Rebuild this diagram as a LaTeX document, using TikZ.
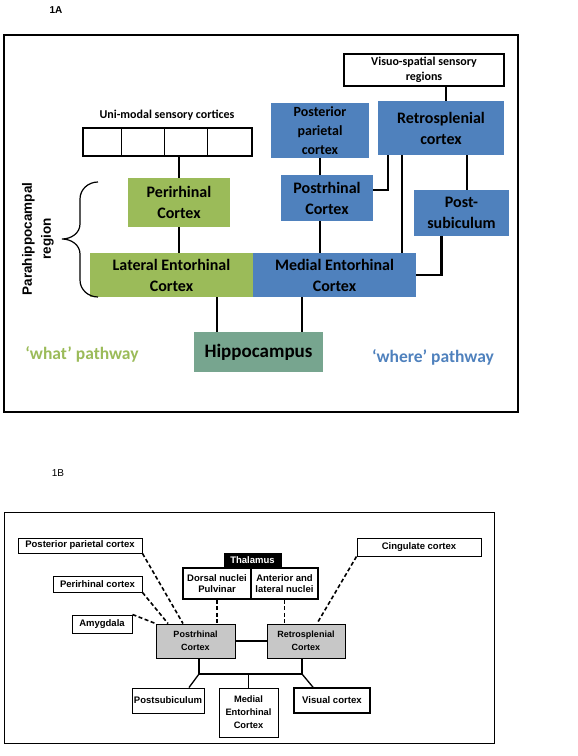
\documentclass[tikz,border=0pt]{standalone}
\usepackage{fontspec}
\newfontfamily\calfont{Carlito}
\newfontfamily\arialfont{Liberation Sans}
\definecolor{whatgreen}{HTML}{9BBB59}
\definecolor{whereblue}{HTML}{4F81BD}
\definecolor{hipgreen}{HTML}{77A58F}
\tikzset{
  abox/.style={inner sep=0pt,align=center,font=\calfont\bfseries\fontsize{16}{21}\selectfont},
  agreen/.style={abox,fill=whatgreen},
  ablue/.style={abox,fill=whereblue},
  alink/.style={line width=2.8pt},
  bbox/.style={draw,line width=1pt,fill=white,inner sep=0pt,align=center,font=\arialfont\bfseries\fontsize{9.5}{12}\selectfont},
  bdash/.style={line width=1.6pt,dash pattern=on 4pt off 2.5pt},
  blink/.style={line width=1.3pt}
}
\begin{document}
\begin{tikzpicture}[x=1pt,y=-1pt]
\useasboundingbox (0,0) rectangle (578,756);

% 1A
\node[font=\arialfont\bfseries\fontsize{10}{12}\selectfont] (labA) at (56,10) {1A};
\draw[line width=2.5pt] (4,35) rectangle (518,412);

\node[draw,line width=2pt,minimum width=160pt,minimum height=32pt,inner sep=0pt,align=center,
  font=\calfont\bfseries\fontsize{12}{14}\selectfont] (vis) at (424,70) {Visuo-spatial sensory\\[1pt]regions};
\node[font=\calfont\bfseries\fontsize{12}{14}\selectfont] (unilab) at (167,115) {Uni-modal sensory cortices};
\node[draw,line width=2pt,minimum width=169pt,minimum height=28pt,inner sep=0pt] (uni) at (167.5,142) {};
\foreach \x in {121,164,207} \draw[line width=0.6pt] (\x,128) -- (\x,156);

\node[agreen,minimum width=102pt,minimum height=49pt] (peri) at (179,202.5) {Perirhinal\\Cortex};
\node[agreen,minimum width=163pt,minimum height=44pt] (lec) at (171.5,275) {Lateral Entorhinal\\Cortex};
\node[ablue,minimum width=163pt,minimum height=44pt] (mec) at (334.5,275) {Medial Entorhinal\\Cortex};
\node[ablue,minimum width=98pt,minimum height=55pt,font=\calfont\bfseries\fontsize{14}{19}\selectfont] (ppc) at (320,130.5) {Posterior\\parietal\\cortex};
\node[ablue,minimum width=92pt,minimum height=46pt] (postr) at (327,198) {Postrhinal\\Cortex};
\node[ablue,minimum width=126pt,minimum height=54pt] (rsc) at (441,128) {Retrosplenial\\cortex};
\node[ablue,minimum width=95pt,minimum height=46pt] (postsub) at (461.5,213) {Post-\\subiculum};
\node[abox,fill=hipgreen,minimum width=129pt,minimum height=40pt,font=\calfont\bfseries\fontsize{19}{22}\selectfont] (hip) at (258.5,352) {Hippocampus};

\node[font=\calfont\bfseries\fontsize{17.5}{20}\selectfont,text=whatgreen] (what) at (82,354) {‘what’ pathway};
\node[font=\calfont\bfseries\fontsize{17.5}{20}\selectfont,text=whereblue] (where) at (433,357) {‘where’ pathway};

\draw[line width=1.2pt] (98,182) to[out=180,in=90] (80,199) -- (80,224) to[out=-90,in=0] (62,239)
  to[out=0,in=90] (80,254) -- (80,280) to[out=-90,in=180] (98,297);
\node[rotate=90,align=center,font=\arialfont\bfseries\fontsize{13.5}{19}\selectfont] (parahip) at (38,239) {Parahippocampal\\region};

\draw[alink] (peri.north) -- (peri.north |- uni.south);
\draw[alink] (peri.south) -- (peri.south |- lec.north);
\draw[alink] (ppc.south) -- (ppc.south |- postr.north);
\draw[alink] (ppc.south |- postr.south) -- (ppc.south |- mec.north);
\draw[alink] ([xshift=5pt]rsc.north) -- ([xshift=5pt]rsc.north |- vis.south);
\draw[alink] ([yshift=8pt]postr.east) -| ([xshift=-53pt]rsc.south);
\draw[alink] ([xshift=-39pt]rsc.south) -- ([xshift=-39pt]rsc.south |- mec.north);
\draw[alink] ([xshift=5.5pt]postsub.north) -- ([xshift=5.5pt]postsub.north |- rsc.south);
\draw[alink] ([xshift=-20pt]postsub.south) |- (mec.east);
\draw[alink] ([xshift=-41.5pt]hip.north) -- ([xshift=-41.5pt]hip.north |- lec.south);
\draw[alink] ([xshift=43.5pt]hip.north) -- ([xshift=43.5pt]hip.north |- mec.south);

% 1B
\node[font=\arialfont\fontsize{10}{12}\selectfont] (labB) at (58,473) {1B};
\draw[line width=1pt] (4,512) rectangle (494,743);

\node[bbox,minimum width=124pt,minimum height=15pt] (ppcB) at (80,545.5) {Posterior parietal cortex};
\node[bbox,minimum width=89pt,minimum height=16pt] (periB) at (97.5,584) {Perirhinal cortex};
\node[bbox,minimum width=60pt,minimum height=18pt] (amyB) at (102,624) {Amygdala};
\node[bbox,fill=black,text=white,minimum width=57pt,minimum height=15pt] (thal) at (252.5,560.5) {Thalamus};
\node[bbox,line width=1.6pt,minimum width=68pt,minimum height=31pt,font=\arialfont\bfseries\fontsize{9.5}{11}\selectfont] (dorsal) at (217,583.5) {Dorsal nuclei\\Pulvinar};
\node[bbox,line width=1.6pt,minimum width=67pt,minimum height=31pt,font=\arialfont\bfseries\fontsize{9.5}{11}\selectfont] (anter) at (284.5,583.5) {Anterior and\\lateral nuclei};
\node[bbox,fill=black!22,minimum width=79pt,minimum height=34pt,font=\arialfont\bfseries\fontsize{9}{13}\selectfont] (postrB) at (195.5,641) {Postrhinal\\Cortex};
\node[bbox,fill=black!22,minimum width=78pt,minimum height=34pt,font=\arialfont\bfseries\fontsize{9}{13}\selectfont] (rscB) at (306,641) {Retrosplenial\\Cortex};
\node[bbox,minimum width=124pt,minimum height=18pt] (cing) at (419,547) {Cingulate cortex};
\node[bbox,minimum width=72pt,minimum height=25pt] (postsubB) at (168,700.5) {Postsubiculum};
\node[bbox,minimum width=59pt,minimum height=49pt,font=\arialfont\bfseries\fontsize{9.3}{13}\selectfont] (mecB) at (248.5,712.5) {Medial\\Entorhinal\\Cortex};
\node[bbox,line width=1.6pt,minimum width=76pt,minimum height=25pt,font=\arialfont\bfseries\fontsize{9.6}{11}\selectfont] (visB) at (332,700.5) {Visual cortex};

\draw[bdash] (ppcB.south east) -- ([xshift=-12.5pt]postrB.north);
\draw[bdash] (periB.south east) -- ([xshift=-27.5pt]postrB.north);
\draw[bdash] (amyB.north east) -- (postrB.north west);
\draw[bdash] (dorsal.south) -- (dorsal.south |- postrB.north);
\draw[bdash] (anter.south) -- (anter.south |- rscB.north);
\draw[bdash] (cing.south west) -- ([xshift=11pt]rscB.north);

\coordinate (jl) at (199,674);
\coordinate (jr) at (302,674);
\draw[blink] (postrB.east) -- (rscB.west);
\draw[blink] (postrB.south -| jl) -- (jl) -- (jr) -- (rscB.south -| jr);
\draw[blink] (jl) -- ([xshift=21pt]postsubB.north);
\draw[blink] (jr) -- ([xshift=-19pt]visB.north);
\draw[blink] (mecB.north) -- (mecB.north |- jl);
\end{tikzpicture}
\end{document}
